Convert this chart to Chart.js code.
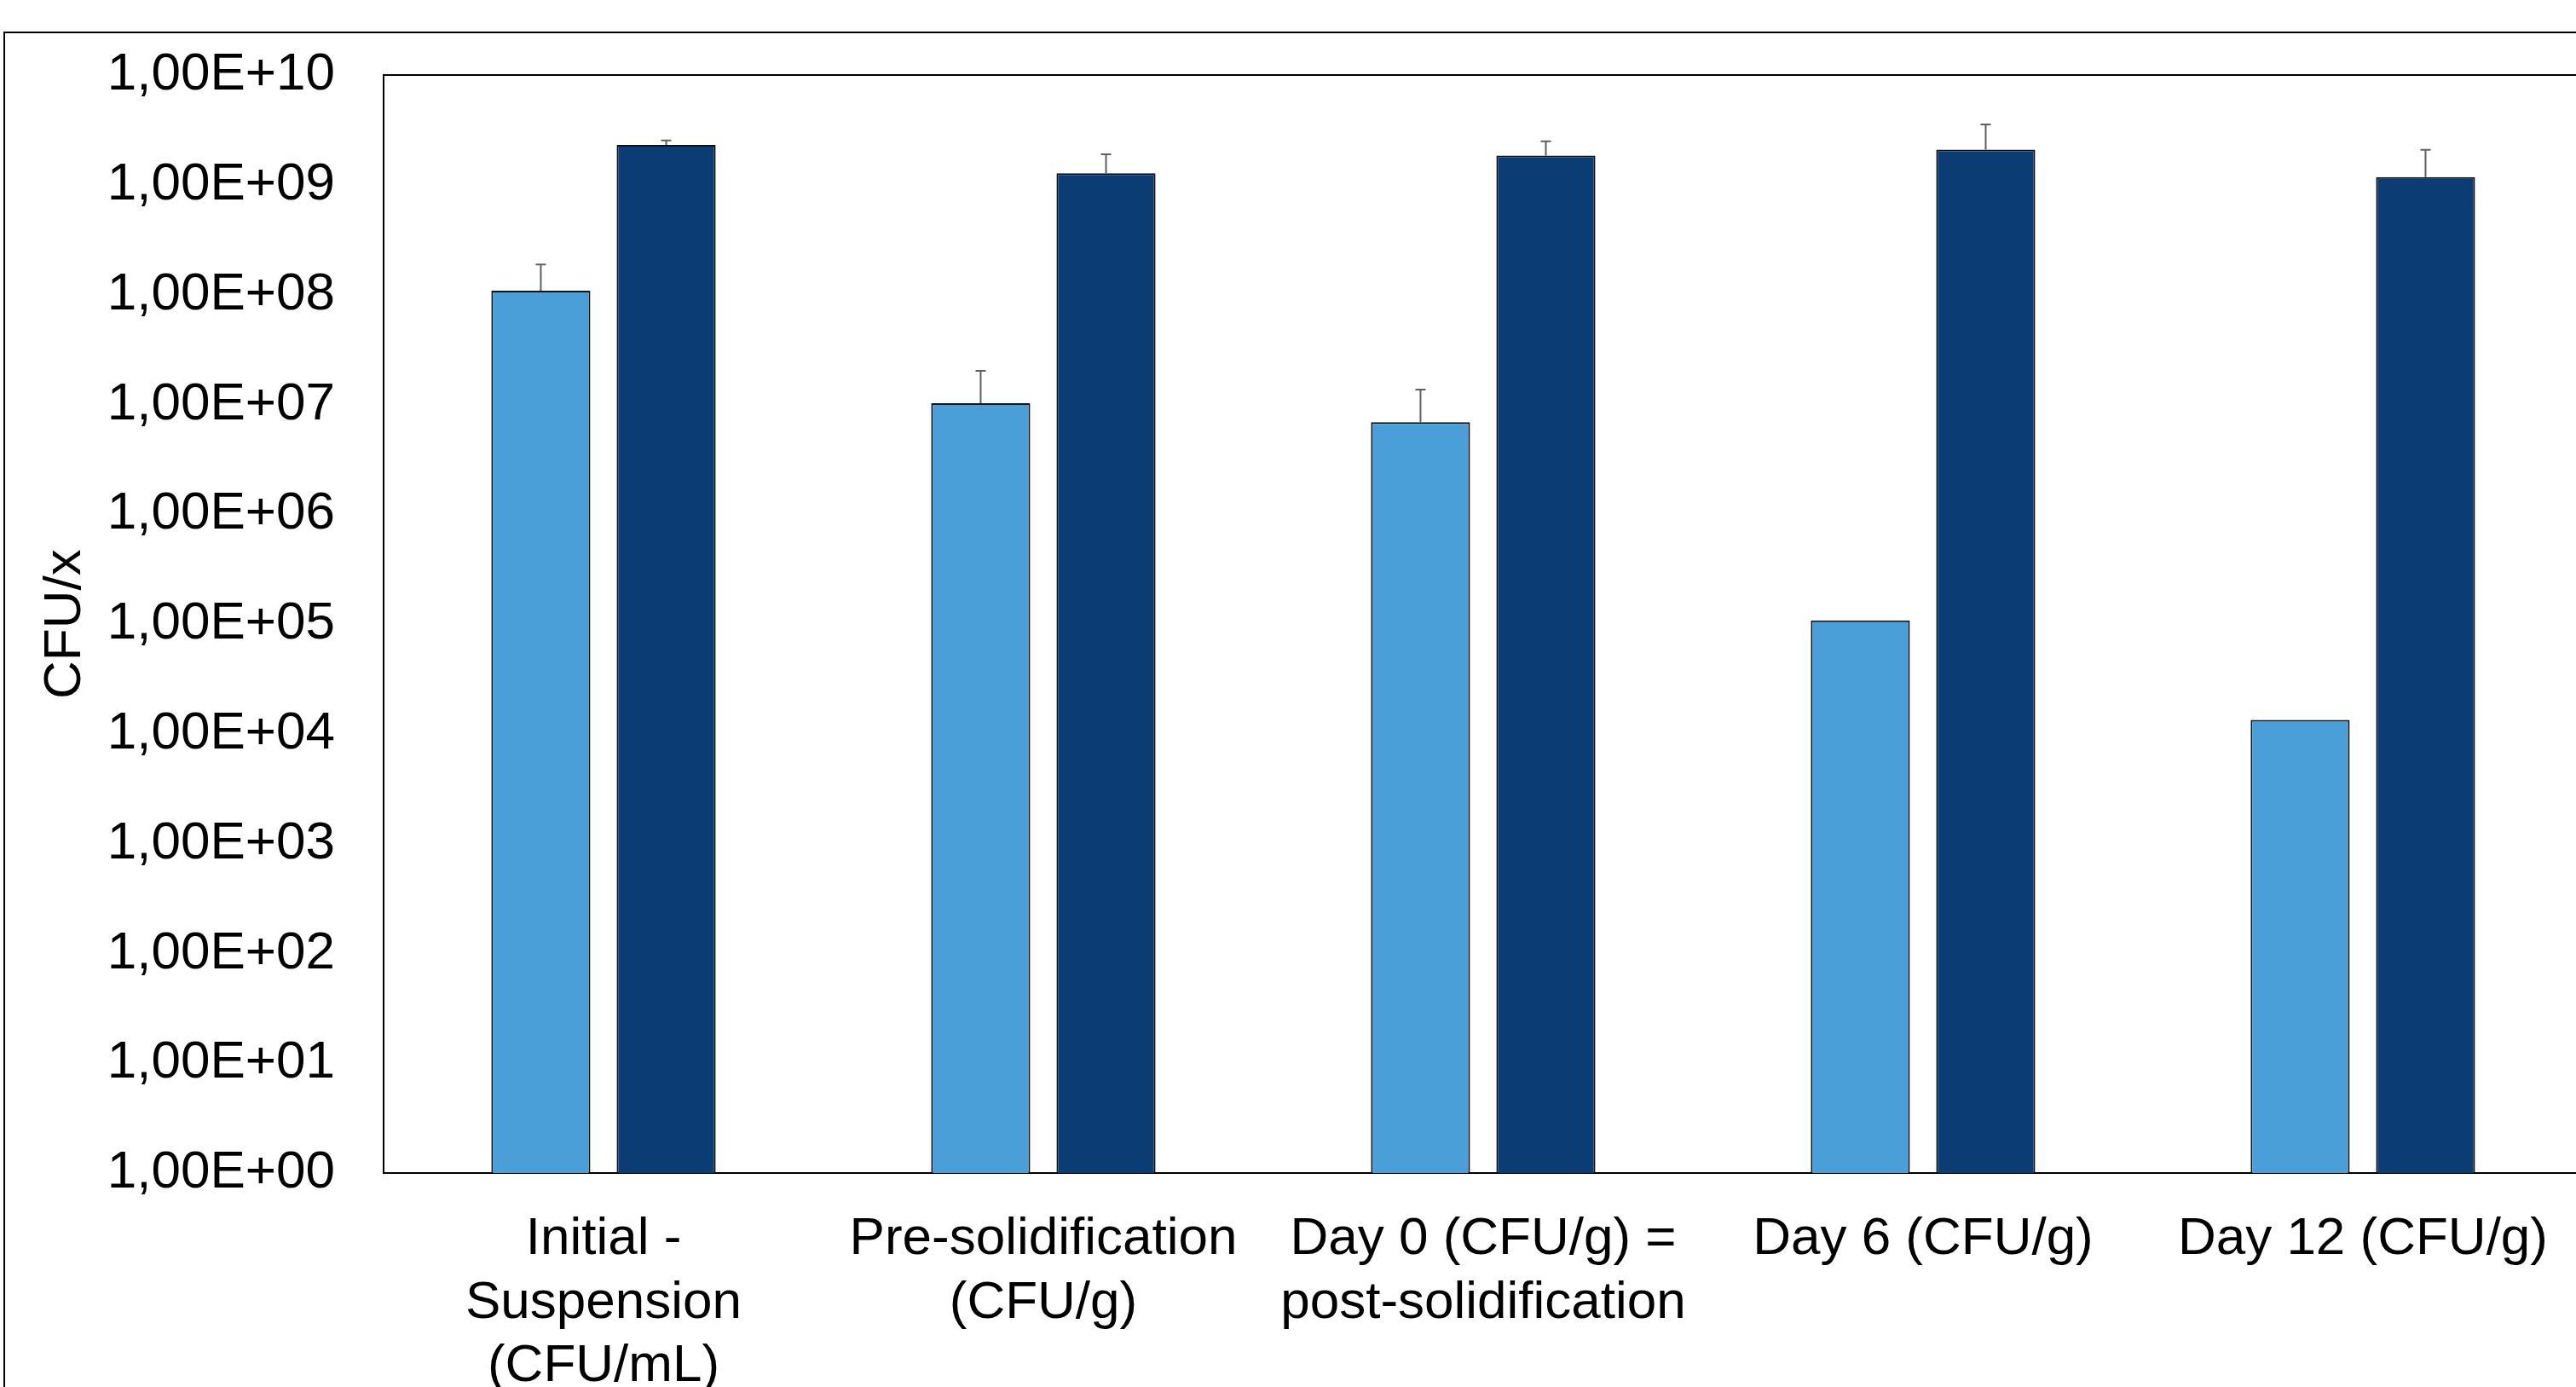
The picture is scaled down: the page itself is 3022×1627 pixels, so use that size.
<!DOCTYPE html>
<html>
<head>
<meta charset="utf-8">
<script src="https://cdn.jsdelivr.net/npm/chart.js@4"></script>
<style>
  body { margin:0; overflow:hidden; background:#fff; }
  #frame { position:absolute; left:4px; top:37px; width:4000px; height:3000px; border-left:2px solid #000; border-top:2px solid #000; }
  #wrap { position:absolute; left:0; top:-6px; }
</style>
</head>
<body>
<div id="frame"></div>
<div id="wrap"><canvas id="chart" width="3030" height="1633"></canvas></div>
<script>
// data
const categories = [
  ["Initial -", "Suspension", "(CFU/mL)"],
  ["Pre-solidification", "(CFU/g)"],
  ["Day 0 (CFU/g) =", "post-solidification"],
  "Day 6 (CFU/g)",
  "Day 12 (CFU/g)"
];
const lightValues = [1.09e8, 1.03e7, 6.9e6, 1.08e5, 1.34e4];
const lightErrors = [8.0e7, 1.0e7, 6.8e6, 0, 0];
const darkValues = [2.32e9, 1.28e9, 1.85e9, 2.10e9, 1.18e9];
const darkErrors = [2.2e8, 6.2e8, 6.5e8, 1.45e9, 9.1e8];
const yTicks = [1e0, 1e1, 1e2, 1e3, 1e4, 1e5, 1e6, 1e7, 1e8, 1e9, 1e10];
const yTickLabels = ["1,00E+00","1,00E+01","1,00E+02","1,00E+03","1,00E+04","1,00E+05","1,00E+06","1,00E+07","1,00E+08","1,00E+09","1,00E+10"];

const fontFam = "'Liberation Sans', Arial, sans-serif";

// error bars (upper only) drawn from the scale
const errorBars = {
  id: "errorBars",
  afterDatasetsDraw(chart) {
    let ctx = chart.ctx;
    let y = chart.scales.y;
    let errs = [lightErrors, darkErrors];
    ctx.save();
    ctx.strokeStyle = "#5f5f5f";
    ctx.lineWidth = 2;
    chart.data.datasets.forEach((ds, di) => {
      let meta = chart.getDatasetMeta(di);
      meta.data.forEach((bar, i) => {
        let e = errs[di][i];
        if (!e) return;
        let top = y.getPixelForValue(ds.data[i] + e);
        ctx.beginPath();
        ctx.moveTo(bar.x, bar.y);
        ctx.lineTo(bar.x, top);
        ctx.moveTo(bar.x - 6, top);
        ctx.lineTo(bar.x + 6, top);
        ctx.stroke();
      });
    });
    ctx.restore();
  }
};

const chartX = document.getElementById("chart").getContext("2d");
const config = new Chart(chartX, {
  type: "bar",
  data: {
    labels: categories,
    datasets: [{
      label: "light",
      data: lightValues,
      backgroundColor: "#4a9fd8",
      borderColor: "#111",
      borderWidth: 2,
      categoryPercentage: 0.57,
      barPercentage: 0.79
    },
    {
      label: "dark",
      data: darkValues,
      backgroundColor: "#0b3c73",
      borderColor: "#111",
      borderWidth: 2,
      categoryPercentage: 0.57,
      barPercentage: 0.79
    }]
  },
  options: {
    responsive: false,
    animation: false,
    layout: { padding: { top: 81, left: 0, right: 0, bottom: 0 } },
    plugins: { legend: { display: false }, tooltip: { enabled: false } },
    scales: {
      x: {
        grid: { display: false, drawTicks: false },
        border: { color: "#000", width: 2 },
        ticks: { color: "#000", padding: 41, maxRotation: 0, autoSkip: false, font: { family: fontFam, size: 62 } },
        afterFit: (s) => { s.height = 1627 - 1376; }
      },
      y: {
        type: "logarithmic",
        min: 1,
        max: 1e10,
        afterBuildTicks: (s) => { s.ticks = yTicks.map(v => ({ value: v })); },
        grid: {
          drawTicks: false,
          lineWidth: 2,
          color: (c) => (c.tick && c.tick.value === 1e10 ? "#000" : "rgba(0,0,0,0)")
        },
        border: { color: "#000", width: 2 },
        ticks: {
          color: "#000",
          padding: 57,
          font: { family: fontFam, size: 62 },
          callback: (v) => yTickLabels[yTicks.indexOf(v)]
        },
        title: {
          display: true,
          text: "CFU/x",
          color: "#000",
          padding: { top: 40, bottom: 0 },
          font: { family: fontFam, size: 62 }
        },
        afterFit: (s) => { s.width = 450; }
      }
    }
  },
  plugins: [errorBars]
});
</script>
</body>
</html>
